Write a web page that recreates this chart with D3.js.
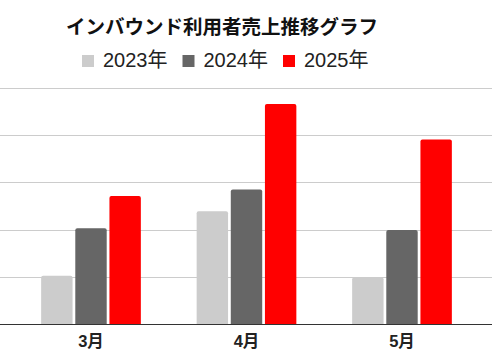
<!DOCTYPE html>
<html><head><meta charset="utf-8">
<script src="https://cdn.jsdelivr.net/npm/d3@7"></script>
<style>
html,body{margin:0;padding:0;background:#fff;}
text{font-family:"Liberation Sans",Arial,"Noto Sans CJK JP",sans-serif;}
</style></head>
<body><svg id="c" width="492" height="356"></svg>
<script>
const title = "インバウンド利用者売上推移グラフ";
const months = ["3月", "4月", "5月"];
const seriesNames = ["2023年", "2024年", "2025年"];
const seriesColors = ["#cccccc", "#666666", "#ff0000"];
const values2023 = [1.02, 2.39, 0.99];
const values2024 = [2.03, 2.85, 1.99];
const values2025 = [2.71, 4.66, 3.91];
const yTicks = [0, 1, 2, 3, 4, 5];

const series = [values2023, values2024, values2025];
const svg = d3.select("#c");
const W = 492, H = 356;

const y = d3.scaleLinear().domain([0, 5]).range([324, 88]);
const x = d3.scaleBand().domain(months).range([13.25, 479.75]).paddingInner(0.3588).paddingOuter(0.1794);
const xs = d3.scaleBand().domain(seriesNames).range([0, x.bandwidth()]).paddingInner(0.08);

// gridlines
svg.append("g").selectAll("line").data(yTicks.filter(d => d > 0)).join("line")
  .attr("x1", 0).attr("x2", W)
  .attr("y1", d => Math.round(y(d)) + 0.5).attr("y2", d => Math.round(y(d)) + 0.5)
  .attr("stroke", "#cccccc").attr("stroke-width", 1);

// bars
const g = svg.append("g");
series.forEach((vals, si) => {
  g.selectAll(null).data(vals).join("path")
    .attr("fill", seriesColors[si])
    .attr("d", (v, i) => {
      const x0 = x(months[i]) + xs(seriesNames[si]);
      const w = xs.bandwidth();
      const y0 = y(v), yb = y(0);
      const r = 2;
      return `M${x0},${yb}V${y0 + r}Q${x0},${y0} ${x0 + r},${y0}H${x0 + w - r}Q${x0 + w},${y0} ${x0 + w},${y0 + r}V${yb}Z`;
    });
});

// baseline
svg.append("line").attr("x1", 0).attr("x2", W)
  .attr("y1", 324.5).attr("y2", 324.5).attr("stroke", "#333333").attr("stroke-width", 1);

// x axis labels
const xAxis = d3.axisBottom(x).tickSize(0).tickPadding(0);
const ax = svg.append("g").attr("transform", "translate(0,335)").call(xAxis);
ax.select(".domain").remove();
ax.selectAll("text").attr("font-size", 16.5).attr("font-weight", "bold").attr("fill", "#222")
  .attr("font-family", '"Liberation Sans",Arial,"Noto Sans CJK JP",sans-serif');

// title
svg.append("text").attr("x", 66).attr("y", 34).text(title)
  .attr("font-size", 19.5).attr("font-weight", "bold").attr("fill", "#111");

// legend
const lg = svg.append("g");
seriesNames.forEach((n, i) => {
  const lx = 82 + i * 100.5;
  lg.append("rect").attr("x", lx).attr("y", 55).attr("width", 12).attr("height", 12).attr("fill", seriesColors[i]);
  lg.append("text").attr("x", lx + 21).attr("y", 67).text(n).attr("font-size", 20).attr("fill", "#222");
});
</script></body></html>
